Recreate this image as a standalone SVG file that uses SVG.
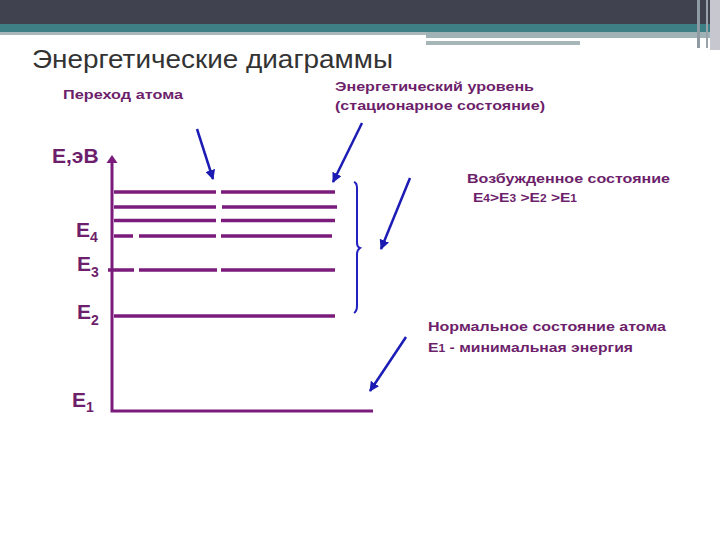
<svg xmlns="http://www.w3.org/2000/svg" width="720" height="540" viewBox="0 0 720 540">
<style>
.lvl{stroke:#7b1b7b;stroke-width:3.5;fill:none}
.axis{stroke:#7b1b7b;stroke-width:3;fill:none}
.ptr{stroke:#1c1cb4;stroke-width:2.5;fill:none;marker-end:url(#ah)}
.lbl{font-family:"Liberation Sans",Arial,sans-serif;font-weight:bold;font-size:13px;fill:#6d1f6b}
.el{font-family:"Liberation Sans",Arial,sans-serif;font-weight:bold;font-size:21px;fill:#6d1f6b}
.sub{font-size:14px}
.sm{font-size:10px}
</style>
<defs>
<marker id="ah" viewBox="0 0 10 10" refX="9" refY="5" markerWidth="4" markerHeight="4" orient="auto" markerUnits="strokeWidth">
<path d="M0,0 L10,5 L0,10 z" fill="#1c1cb4"/>
</marker>
</defs>
<rect x="0" y="0" width="720" height="540" fill="#ffffff"/>
<g id="header">
<rect x="0" y="0" width="720" height="24" fill="#41424f"/>
<rect x="0" y="24" width="720" height="8" fill="#3e7f86"/>
<rect x="0" y="32" width="426" height="3" fill="#a9b8bb"/>
<rect x="426" y="32" width="294" height="6" fill="#9fb2b5"/>
<rect x="426" y="41" width="154" height="4" fill="#a5b5b8"/>
<rect x="697" y="0" width="3" height="48" fill="#8f9aa3"/>
<rect x="706" y="0" width="2" height="48" fill="#9aa2ab"/>
<rect x="710" y="0" width="10" height="50" fill="#c6c7cf"/>
</g>
<text x="32" y="68" font-family="'Liberation Sans',Arial,sans-serif" font-size="25" fill="#333333" textLength="361" lengthAdjust="spacingAndGlyphs">Энергетические диаграммы</text>
<g id="axes">
<path class="axis" d="M112,162 L112,411 L373,411"/>
<path d="M106.5,163 L112,155 L117.5,163 z" fill="#7b1b7b"/>
</g>
<g id="levels">
<path class="lvl" d="M114,192 H216 M221,192 H335"/>
<path class="lvl" d="M114,207 H216 M222,207 H337"/>
<path class="lvl" d="M114,220.5 H216 M221,220.5 H335"/>
<path class="lvl" d="M114,236 H133 M139,236 H216 M221,236 H332"/>
<path class="lvl" d="M108,270 H134 M139,270 H217 M221,270 H335"/>
<path class="lvl" d="M114,316 H335"/>
</g>
<g id="labels-e">
<text class="el" x="52" y="163">Е,эВ</text>
<text class="el" x="76" y="237">Е<tspan class="sub" dy="5">4</tspan></text>
<text class="el" x="77" y="271">Е<tspan class="sub" dy="6">3</tspan></text>
<text class="el" x="77" y="319">Е<tspan class="sub" dy="6">2</tspan></text>
<text class="el" x="72" y="407">Е<tspan class="sub" dy="5">1</tspan></text>
</g>
<g id="node-transition">
<text class="lbl" x="63" y="99" textLength="120" lengthAdjust="spacingAndGlyphs">Переход атома</text>
</g>
<g id="node-level">
<text class="lbl" x="335" y="91" textLength="199" lengthAdjust="spacingAndGlyphs">Энергетический уровень</text>
<text class="lbl" x="335" y="110" textLength="210" lengthAdjust="spacingAndGlyphs">(стационарное состояние)</text>
</g>
<g id="node-excited">
<text class="lbl" x="467" y="183" textLength="203" lengthAdjust="spacingAndGlyphs">Возбужденное состояние</text>
<text class="lbl" x="473" y="202" font-weight="normal" font-size="14" textLength="104" lengthAdjust="spacingAndGlyphs">Е<tspan class="sm">4</tspan>&gt;Е<tspan class="sm">3</tspan> &gt;Е<tspan class="sm">2</tspan> &gt;Е<tspan class="sm">1</tspan></text>
</g>
<g id="node-ground">
<text class="lbl" x="428" y="331" textLength="238" lengthAdjust="spacingAndGlyphs">Нормальное состояние атома</text>
<text class="lbl" x="428" y="352" textLength="205" lengthAdjust="spacingAndGlyphs">Е<tspan class="sm">1</tspan> - минимальная энергия</text>
</g>
<g id="connectors">
<path class="ptr" d="M197,129 L213,179"/>
<path class="ptr" d="M362,123 L333,182"/>
<path class="ptr" d="M410,178 L381,249"/>
<path class="ptr" d="M406,337 L370,391"/>
<path d="M354,182 Q357,183 357,188 L357,243 Q357,247 360,248 Q357,250 357,254 L357,306 Q357,311 354,313" stroke="#2020c0" stroke-width="2" fill="none"/>
</g>
</svg>
